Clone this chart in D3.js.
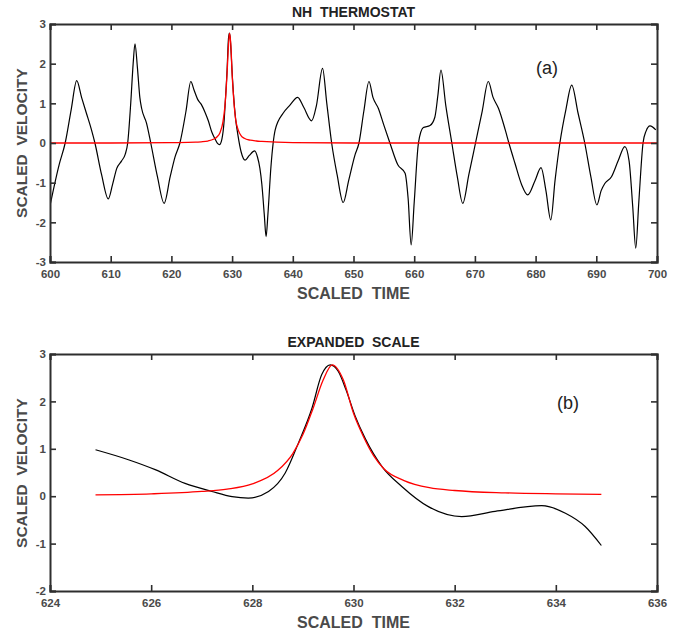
<!DOCTYPE html>
<html>
<head>
<meta charset="utf-8">
<script src="https://cdn.jsdelivr.net/npm/d3@7"></script>
<style>
  body { margin: 0; background: #fff; }
  svg text { font-family: "Liberation Sans", Arial, Helvetica, sans-serif; }
</style>
</head>
<body>
<svg id="chart" width="680" height="634"></svg>
<script>
// ---- data ----
const blackT = [600.0,601.5,602.5,603.5,604.4,605.2,606.0,606.8,607.4,608.5,609.6,610.3,611.0,611.8,612.4,612.8,613.3,613.7,614.0,614.4,614.8,615.1,615.9,616.6,617.7,618.8,619.8,620.6,621.4,622.4,623.2,623.7,624.4,624.9,625.55,626.08,626.67,627.2,627.6,627.92,628.32,628.65,628.91,629.18,629.37,629.54,629.70,629.85,630.03,630.23,630.56,630.96,631.48,632.14,632.8,633.72,634.19,634.58,634.9,635.3,635.6,635.9,636.4,637.1,638.4,639.5,640.8,641.8,643.1,643.9,644.9,645.6,646.4,647.3,648.3,649.2,650.25,650.9,651.7,652.55,653.2,654.1,655.0,656.0,657.3,658.5,659.0,659.5,660.0,660.7,661.5,662.6,663.4,663.9,664.4,665.2,666.2,667.1,668.0,669.0,670.1,671.2,672.2,673.0,673.9,675.0,675.6,676.6,677.7,678.7,679.9,680.9,681.7,682.5,683.2,684.0,685.0,685.95,687.0,688.1,689.1,690.1,690.8,691.4,692.5,693.6,694.7,695.4,696.0,696.5,697.0,697.7,698.2,698.85,699.8];
const blackV = [-1.58,-0.55,0.0,0.85,1.57,1.15,0.75,0.35,0.0,-0.80,-1.41,-1.05,-0.64,-0.45,-0.28,0.0,1.0,2.0,2.50,1.9,1.15,0.87,0.50,0.0,-0.85,-1.52,-0.85,-0.35,0.0,0.8,1.55,1.35,1.08,0.98,0.77,0.56,0.27,0.10,-0.01,-0.04,0.10,0.49,1.12,1.86,2.56,2.77,2.63,2.25,1.70,1.22,0.63,0.20,-0.22,-0.43,-0.32,-0.20,-0.36,-0.64,-1.04,-1.8,-2.36,-1.8,-0.6,0.33,0.75,0.95,1.15,0.90,0.56,0.95,1.88,1.0,0.0,-0.8,-1.50,-0.95,-0.30,0.0,0.80,1.55,1.15,0.87,0.45,0.0,-0.55,-0.76,-1.4,-2.57,-1.5,0.0,0.39,0.44,0.65,1.2,1.84,0.95,0.0,-0.85,-1.52,-0.8,0.0,0.8,1.55,1.15,0.87,0.33,0.0,-0.51,-1.05,-1.31,-0.95,-0.62,-1.2,-1.94,-0.95,0.0,0.85,1.46,0.75,0.0,-0.85,-1.56,-1.2,-1.02,-0.85,-0.45,-0.09,-0.45,-1.6,-2.65,-1.5,0.0,0.30,0.43,0.33];

const redT = [600,610,620,624,624.9,626,627,627.5,628,628.5,628.8,629.0,629.2,629.4,629.58,629.8,630.0,630.2,630.4,630.6,631.0,631.5,632.0,633,634,634.9,640,650,700];
const redV = [0.0,0.0,0.01,0.02,0.03,0.05,0.10,0.15,0.26,0.54,0.90,1.30,1.85,2.45,2.77,2.45,1.75,1.25,0.85,0.58,0.33,0.18,0.12,0.07,0.05,0.04,0.01,0.0,0.0];

const xTicksA = [600,610,620,630,640,650,660,670,680,690,700];
const yTicksA = [-3,-2,-1,0,1,2,3];
const xTicksB = [624,626,628,630,632,634,636];
const yTicksB = [-2,-1,0,1,2,3];

const black = blackT.map((t,i)=>({t, v: blackV[i]}));
const red = redT.map((t,i)=>({t, v: redV[i]}));

const svg = d3.select("#chart");
const axisColor = "#2e2e2e";
const labelColor = "#4a4a4a";

function panel(opts) {
  const {x0,x1,y0,y1,xDomain,yDomain,xTicks,yTicks,title,titleY,tag,tagX,tagY,xLabelY,yLabelY,tmin,tmax} = opts;
  const x = d3.scaleLinear().domain(xDomain).range([x0,x1]);
  const y = d3.scaleLinear().domain(yDomain).range([y1,y0]);
  const g = svg.append("g");
  const tl = 6;

  const cid = "clip" + Math.round(y0);
  svg.append("clipPath").attr("id", cid).append("rect")
    .attr("x", x0).attr("y", y0).attr("width", x1-x0).attr("height", y1-y0);

  const line = d3.line().x(d=>x(d.t)).y(d=>y(d.v)).curve(d3.curveMonotoneX);
  const bd = black.filter(d=>d.t>=tmin && d.t<=tmax);
  const rd = red.filter(d=>d.t>=tmin && d.t<=tmax);
  const lg = g.append("g").attr("clip-path", `url(#${cid})`);
  lg.append("path").datum(bd).attr("d", line).attr("fill","none").attr("stroke","#000").attr("stroke-width",1.2);
  lg.append("path").datum(rd).attr("d", line).attr("fill","none").attr("stroke","#ff0000").attr("stroke-width",1.3);

  const axB = d3.axisBottom(x).tickValues(xTicks).tickSize(-tl).tickPadding(8).tickFormat(d3.format("d"));
  const axT = d3.axisTop(x).tickValues(xTicks).tickSize(-tl).tickFormat("");
  const axL = d3.axisLeft(y).tickValues(yTicks).tickSize(-tl).tickPadding(4).tickFormat(d3.format("d"));
  const axR = d3.axisRight(y).tickValues(yTicks).tickSize(-tl).tickFormat("");
  const gb = g.append("g").attr("transform",`translate(0,${y1})`).call(axB);
  const gt = g.append("g").attr("transform",`translate(0,${y0})`).call(axT);
  const gl = g.append("g").attr("transform",`translate(${x0},0)`).call(axL);
  const gr = g.append("g").attr("transform",`translate(${x1},0)`).call(axR);
  [gb,gt,gl,gr].forEach(a=>{
    a.select(".domain").attr("stroke",axisColor).attr("stroke-width",2);
    a.selectAll(".tick line").attr("stroke",axisColor).attr("stroke-width",1.6);
    a.selectAll(".tick text").attr("fill",labelColor).attr("font-size",11.5).attr("font-weight","bold");
  });
  gl.selectAll(".tick text").text(d=>String(d));

  g.append("text").attr("x",(x0+x1)/2).attr("y",titleY).attr("text-anchor","middle")
    .attr("font-size",14).attr("font-weight","bold").attr("fill","#222")
    .style("white-space","pre").text(title);
  g.append("text").attr("x",(x0+x1)/2).attr("y",xLabelY).attr("text-anchor","middle")
    .attr("font-size",16).attr("font-weight","bold").attr("fill",labelColor)
    .style("white-space","pre").text("SCALED  TIME");
  g.append("text").attr("transform",`translate(27,${yLabelY}) rotate(-90)`).attr("text-anchor","middle")
    .attr("font-size",15.5).attr("font-weight","bold").attr("fill",labelColor)
    .style("white-space","pre").text("SCALED  VELOCITY");
  g.append("text").attr("x",tagX).attr("y",tagY).attr("text-anchor","middle")
    .attr("font-size",18).attr("fill","#222").text(tag);
}

panel({x0:50,x1:657,y0:24,y1:262,xDomain:[600,700],yDomain:[-3,3],xTicks:xTicksA,yTicks:yTicksA,
  title:"NH  THERMOSTAT",titleY:17,tag:"(a)",tagX:547,tagY:74,xLabelY:299,yLabelY:143,tmin:600,tmax:700});
panel({x0:50,x1:657,y0:354,y1:591,xDomain:[624,636],yDomain:[-2,3],xTicks:xTicksB,yTicks:yTicksB,
  title:"EXPANDED  SCALE",titleY:347,tag:"(b)",tagX:568,tagY:409,xLabelY:628,yLabelY:473,tmin:624.8,tmax:635.0});
</script>
</body>
</html>
